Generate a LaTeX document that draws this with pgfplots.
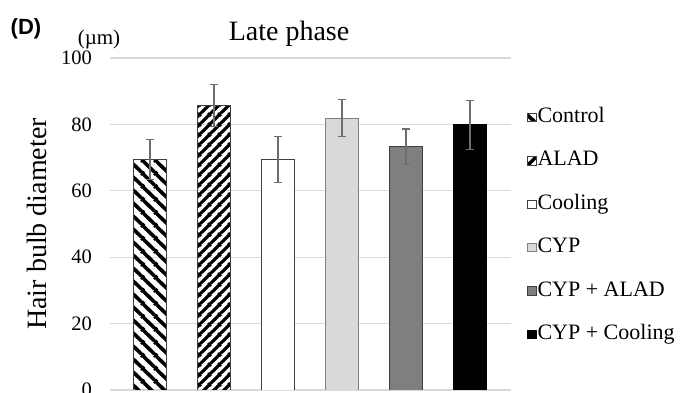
\documentclass[border=0pt]{standalone}
\usepackage{fontspec}
\setmainfont{Liberation Serif}
\newfontfamily\arialf{Liberation Sans}
\usepackage{pgfplots}
\pgfplotsset{compat=1.18}
\usetikzlibrary{patterns.meta}

\tikzdeclarepattern{
  name=stripeNW,
  type=uncolored,
  bounding box={(0bp,0bp) and (13bp,13bp)},
  tile size={(13bp,13bp)},
  code={
    \draw[line width=3.8bp] (-1bp,14bp)--(14bp,-1bp);
    \draw[line width=3.8bp] (-1bp,1bp)--(1bp,-1bp);
    \draw[line width=3.8bp] (12bp,14bp)--(14bp,12bp);
  }
}
\tikzdeclarepattern{
  name=stripeNE,
  type=uncolored,
  bounding box={(0bp,0bp) and (10bp,10bp)},
  tile size={(10bp,10bp)},
  code={
    \draw[line width=3.4bp] (-1bp,-1bp)--(11bp,11bp);
    \draw[line width=3.4bp] (-1bp,9bp)--(1bp,11bp);
    \draw[line width=3.4bp] (9bp,-1bp)--(11bp,1bp);
  }
}

\definecolor{gridc}{HTML}{D9D9D9}
\definecolor{errc}{HTML}{6E6E6E}
\definecolor{edgec}{HTML}{404040}
\definecolor{cypc}{HTML}{D9D9D9}
\definecolor{cypalad}{HTML}{7F7F7F}

\pgfplotstableread{
x y e
0 69.5 6.0
1 85.7 6.4
2 69.4 7.0
3 81.9 5.5
4 73.3 5.3
5 79.9 7.4
}\datatab

\begin{document}
\begin{tikzpicture}
\useasboundingbox (0,0) rectangle (680bp,393bp);
\begin{axis}[
  at={(110bp,3bp)}, anchor=south west,
  scale only axis, width=400.7bp, height=332bp,
  xmin=-0.625, xmax=5.636, ymin=0, ymax=100,
  xtick=\empty,
  ytick={0,20,40,60,80,100},
  ymajorgrids, grid style={gridc, line width=1.2bp},
  axis line style={draw=none},
  major tick length=0pt,
  /pgf/number format/assume math mode=true,
  yticklabel={\hbox{\fontsize{20.5bp}{24bp}\selectfont\pgfmathprintnumber[assume math mode=true]{\tick}}},
  yticklabel style={anchor=east, inner sep=0pt, xshift=-18bp},
  ybar, bar width=33bp, bar shift=0pt,
  ylabel={Hair bulb diameter},
  ylabel style={font=\fontsize{28bp}{32bp}\selectfont, at={(rel axis cs:-0.182,0.5)}, anchor=center, rotate=0},
  title={Late phase},
  title style={font=\fontsize{28bp}{32bp}\selectfont, at={(rel axis cs:0.4467,1.0361)}, anchor=base, inner sep=0pt},
  legend cell align=left,
  legend image code/.code={\draw[#1] (0bp,-4.2bp) rectangle (8.3bp,4.2bp);},
  legend style={at={(rel axis cs:1.0407,0.8515)}, anchor=north west, draw=none, fill=none,
    inner sep=0pt, row sep=23.4bp, column sep=1bp,
    font=\fontsize{22bp}{26bp}\selectfont,
    nodes={inner sep=0pt, text height=15bp, text depth=5bp}},
  error bars/y dir=both, error bars/y explicit,
  error bars/error bar style={errc, line width=1.1bp},
  error bars/error mark options={errc, line width=1.1bp, mark size=3.6bp, rotate=90},
]
\addplot[draw=edgec, line width=1bp, pattern={stripeNW}, pattern color=black]
  table[x=x, y=y, y error=e, restrict expr to domain={\coordindex}{0:0}] {\datatab};
\addlegendentry{Control}
\addplot[draw=edgec, line width=1bp, pattern={stripeNE}, pattern color=black]
  table[x=x, y=y, y error=e, restrict expr to domain={\coordindex}{1:1}] {\datatab};
\addlegendentry{ALAD}
\addplot[draw=edgec, line width=1bp, fill=white]
  table[x=x, y=y, y error=e, restrict expr to domain={\coordindex}{2:2}] {\datatab};
\addlegendentry{Cooling}
\addplot[draw=gray, line width=1bp, fill=cypc]
  table[x=x, y=y, y error=e, restrict expr to domain={\coordindex}{3:3}] {\datatab};
\addlegendentry{CYP}
\addplot[draw=edgec, line width=1bp, fill=cypalad]
  table[x=x, y=y, y error=e, restrict expr to domain={\coordindex}{4:4}] {\datatab};
\addlegendentry{CYP + ALAD}
\addplot[draw=black, line width=1bp, fill=black]
  table[x=x, y=y, y error=e, restrict expr to domain={\coordindex}{5:5}] {\datatab};
\addlegendentry{CYP + Cooling}
\end{axis}
\node[anchor=base, font=\fontsize{21bp}{25bp}\selectfont, inner sep=0pt] at (99bp,348bp) {(µm)};
\node[anchor=base, font=\arialf\bfseries\fontsize{22bp}{26bp}\selectfont, inner sep=0pt] at (26bp,358bp) {(D)};
\end{tikzpicture}
\end{document}
